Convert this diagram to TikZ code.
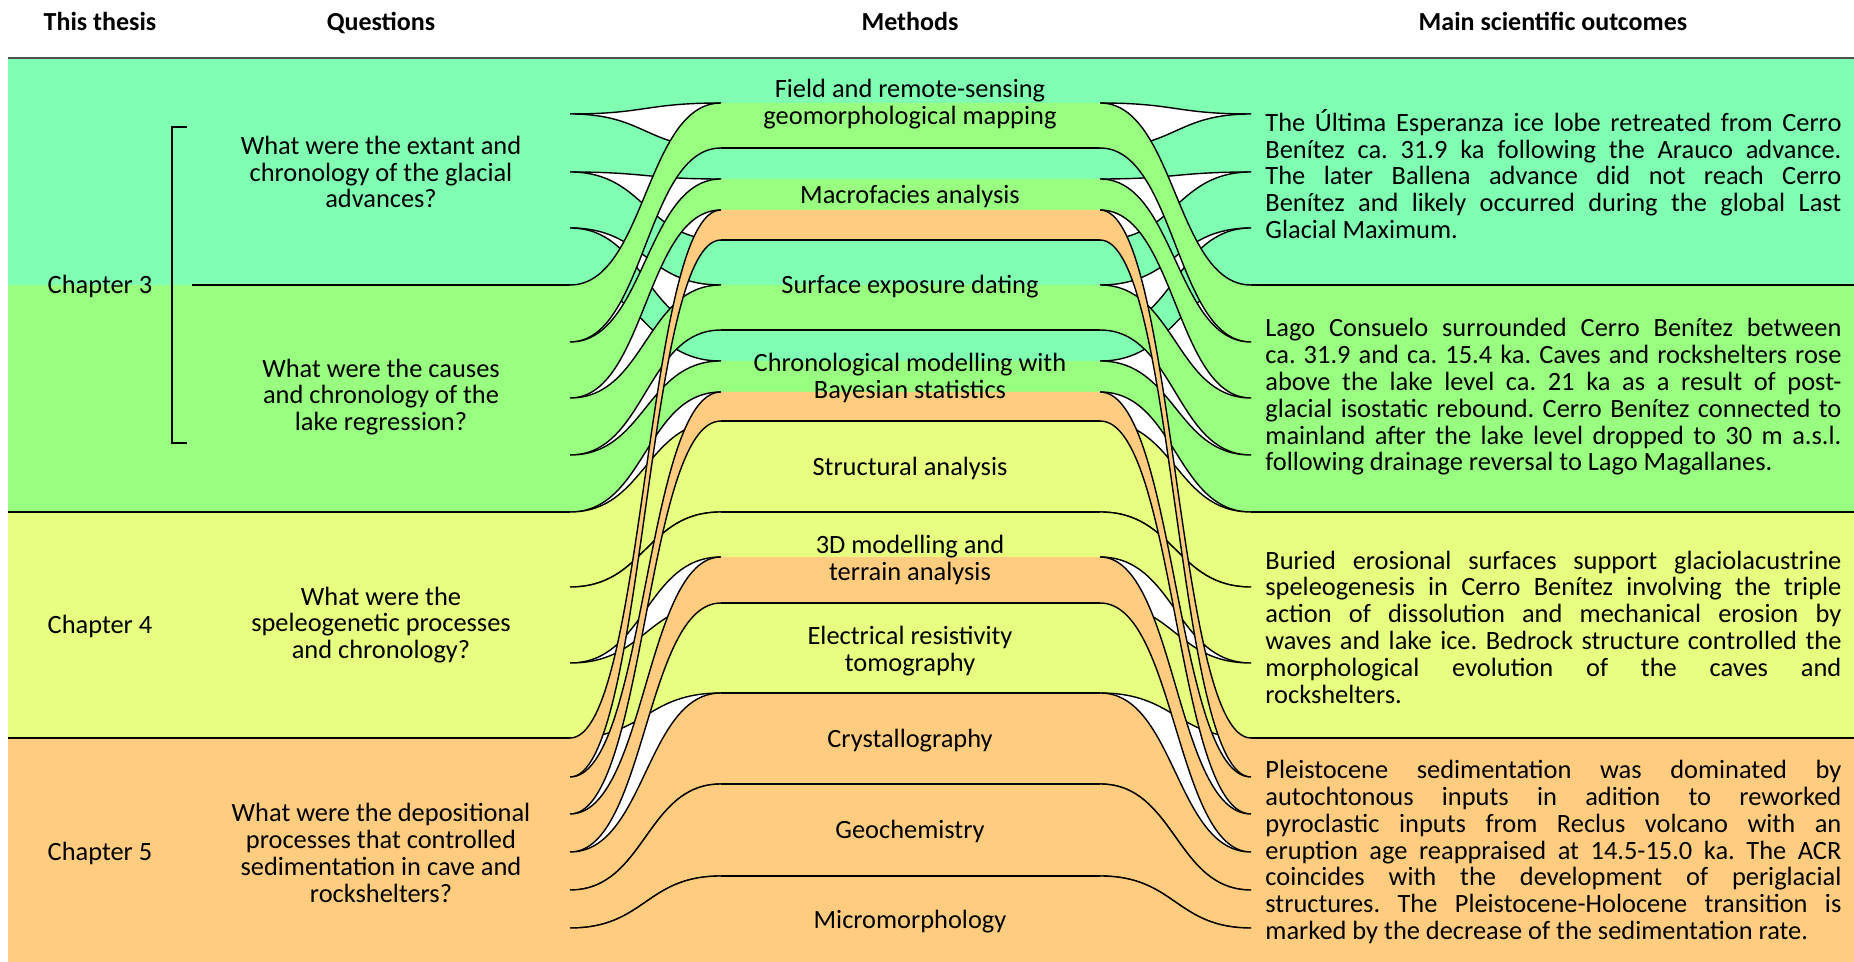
\documentclass[tikz,border=0pt]{standalone}
\usepackage{fontspec}
\setmainfont{Carlito}
\usepackage{tikz}
\frenchspacing
\definecolor{chmint}{RGB}{128,255,178}
\definecolor{chgreen}{RGB}{153,255,128}
\definecolor{chyellow}{RGB}{230,255,128}
\definecolor{chorange}{RGB}{255,204,128}
\definecolor{rulegray}{RGB}{80,80,80}
\tikzset{
  hdr/.style={font=\bfseries\fontsize{13}{15}\selectfont, inner sep=0pt, anchor=base},
  chap/.style={font=\fontsize{13.2}{13.4}\selectfont, inner sep=0pt},
  quest/.style={font=\fontsize{13.2}{13.4}\selectfont, align=center, inner sep=0pt},
  method/.style={font=\fontsize{13.2}{13.4}\selectfont, align=center, inner sep=0pt},
  outcome/.style={font=\fontsize{13.2}{13.4}\selectfont, align=left, anchor=west, inner sep=0pt},
  edge/.style={line width=0.7pt, color=black},
  toprule/.style={line width=1.2pt, color=rulegray}
}
\newcommand{\jl}[1]{\makebox[288pt][s]{#1}}

\begin{document}
\begin{tikzpicture}[x=0.5pt, y=-0.5pt]
  \useasboundingbox (0,0) rectangle (1854,962);
  \clip (0,0) rectangle (1854,962);
  % chapter bands, left and right columns
  \foreach \col/\ya/\yb in {chmint/58/285, chgreen/285/512, chyellow/512/738, chorange/738/966} {
    \fill[\col] (8,\ya) rectangle (570,\yb);
    \fill[\col] (1251,\ya) rectangle (1854,\yb);
  }
  % ribbons: colour / left top / left bottom / middle top / middle bottom
  \foreach \col/\la/\lb/\ma/\mb in {
      chmint/58/114/58/103, chmint/114/172/148/179, chmint/172/228/240/285, chmint/228/285/330/361,
      chgreen/285/342/103/148, chgreen/342/398/179/210, chgreen/398/455/285/330, chgreen/455/512/361/392,
      chyellow/512/587/421/512, chyellow/587/663/512/557, chyellow/663/738/603/693,
      chorange/738/777/210/240, chorange/777/814/392/421, chorange/814/852/557/603,
      chorange/852/890/693/784, chorange/890/928/784/876, chorange/928/970/876/970} {
    \fill[\col] (570,\la) .. controls (645.5,\la) and (645.5,\ma) .. (721,\ma) -- (1100,\ma)
      .. controls (1175.5,\ma) and (1175.5,\la) .. (1251,\la) -- (1251,\lb)
      .. controls (1175.5,\lb) and (1175.5,\mb) .. (1100,\mb) -- (721,\mb)
      .. controls (645.5,\mb) and (645.5,\lb) .. (570,\lb) -- cycle;
    \draw[edge] (570,\la) .. controls (645.5,\la) and (645.5,\ma) .. (721,\ma);
    \draw[edge] (570,\lb) .. controls (645.5,\lb) and (645.5,\mb) .. (721,\mb);
    \draw[edge] (1100,\ma) .. controls (1175.5,\ma) and (1175.5,\la) .. (1251,\la);
    \draw[edge] (1100,\mb) .. controls (1175.5,\mb) and (1175.5,\lb) .. (1251,\lb);
  }
  % method separators
  \foreach \y in {148,240,330,421,512,603,693,784,876}
    \draw[edge] (721,\y) -- (1100,\y);
  % chapter separators
  \draw[edge] (192,285) -- (570,285);
  \draw[edge] (1251,285) -- (1854,285);
  \foreach \y in {512,738} {
    \draw[edge] (8,\y) -- (570,\y);
    \draw[edge] (1251,\y) -- (1854,\y);
  }
  \draw[toprule] (8,58) -- (1854,58);
  \draw[edge] (187,127) -- (172,127) -- (172,443) -- (187,443);

  \node[hdr] (hThesis) at (100,31) {This thesis};
  \node[hdr] (hQuest) at (381,31) {Questions};
  \node[hdr] (hMeth) at (910,31) {Methods};
  \node[hdr] (hOut) at (1553,31) {Main scientific outcomes};

  \node[chap] (chapA) at (100,286) {Chapter 3};
  \node[chap] (chapB) at (100,626) {Chapter 4};
  \node[chap] (chapC) at (100,853) {Chapter 5};

  \node[quest] (qA) at (381,172) {What were the extant and\\chronology of the glacial\\advances?};
  \node[quest] (qB) at (381,397) {What were the causes\\and chronology of the\\lake regression?};
  \node[quest] (qC) at (381,625) {What were the\\speleogenetic processes\\and chronology?};
  \node[quest] (qD) at (381,853) {What were the depositional\\processes that controlled\\sedimentation in cave and\\rockshelters?};

  \node[method] (mField) at (910,104) {Field and remote-sensing\\geomorphological mapping};
  \node[method] (mMacro) at (910,196) {Macrofacies analysis};
  \node[method] (mSurf) at (910,287) {Surface exposure dating};
  \node[method] (mChrono) at (910,378) {Chronological modelling with\\Bayesian statistics};
  \node[method] (mStruct) at (910,468) {Structural analysis};
  \node[method] (mTerrain) at (910,560) {3D modelling and\\terrain analysis};
  \node[method] (mERT) at (910,651) {Electrical resistivity\\tomography};
  \node[method] (mCryst) at (910,741) {Crystallography};
  \node[method] (mGeochem) at (910,831) {Geochemistry};
  \node[method] (mMicro) at (910,922) {Micromorphology};

  \node[outcome] (oA) at (1265,174) {\jl{The Última Esperanza ice lobe retreated from Cerro}\\
    \jl{Benítez ca. 31.9 ka following the Arauco advance.}\\
    \jl{The later Ballena advance did not reach Cerro}\\
    \jl{Benítez and likely occurred during the global Last}\\
    Glacial Maximum.};
  \node[outcome] (oB) at (1265,397) {\jl{Lago Consuelo surrounded Cerro Benítez between}\\
    \jl{ca. 31.9 and ca. 15.4 ka. Caves and rockshelters rose}\\
    \jl{above the lake level ca. 21 ka as a result of post-}\\
    \jl{glacial isostatic rebound. Cerro Benítez connected to}\\
    \jl{mainland after the lake level dropped to 30 m a.s.l.}\\
    following drainage reversal to Lago Magallanes.};
  \node[outcome] (oC) at (1265,627) {\jl{Buried erosional surfaces support glaciolacustrine}\\
    \jl{speleogenesis in Cerro Benítez involving the triple}\\
    \jl{action of dissolution and mechanical erosion by}\\
    \jl{waves and lake ice. Bedrock structure controlled the}\\
    \jl{morphological evolution of the caves and}\\
    rockshelters.};
  \node[outcome] (oD) at (1265,852) {\jl{Pleistocene sedimentation was dominated by}\\
    \jl{autochtonous inputs in adition to reworked}\\
    \jl{pyroclastic inputs from Reclus volcano with an}\\
    \jl{eruption age reappraised at 14.5-15.0 ka. The ACR}\\
    \jl{coincides with the development of periglacial}\\
    \jl{structures. The Pleistocene-Holocene transition is}\\
    marked by the decrease of the sedimentation rate.};
\end{tikzpicture}
\end{document}
